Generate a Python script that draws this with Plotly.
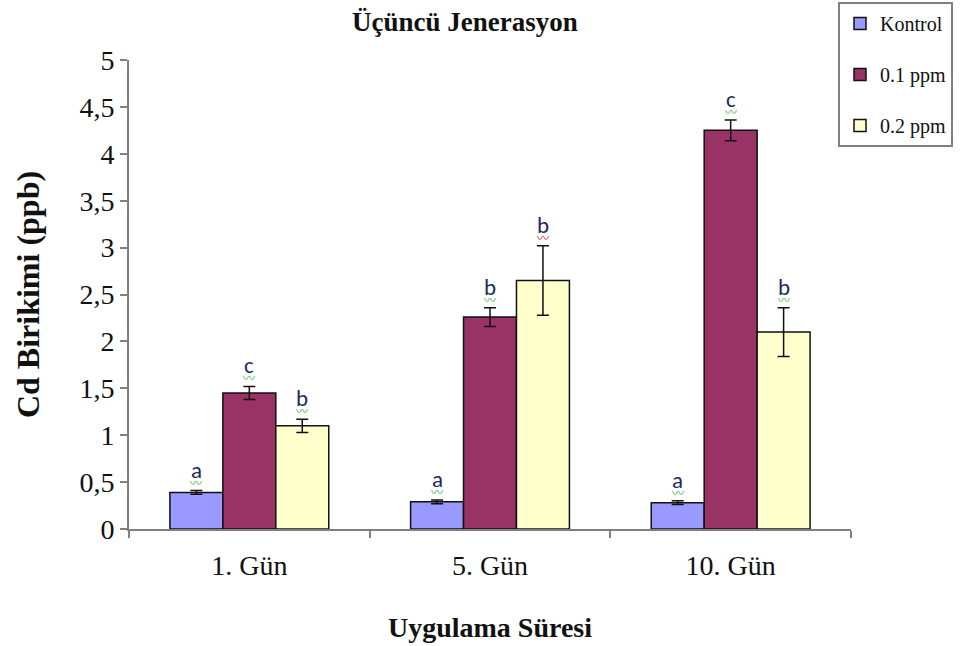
import plotly.graph_objects as go

categories = ["1. Gün", "5. Gün", "10. Gün"]
series_names = ["Kontrol", "0.1 ppm", "0.2 ppm"]
kontrol = [0.39, 0.29, 0.28]
ppm01 = [1.45, 2.26, 4.25]
ppm02 = [1.10, 2.65, 2.10]
kontrol_err = [0.02, 0.02, 0.02]
ppm01_err = [0.07, 0.10, 0.11]
ppm02_err = [0.07, 0.37, 0.26]
kontrol_letters = ["a", "a", "a"]
ppm01_letters = ["c", "b", "c"]
ppm02_letters = ["b", "b", "b"]
squiggle_colors = [["#3cb83c", "#3cb83c", "#3cb83c"],
                   ["#3cb83c", "#3cb83c", "#3cb83c"],
                   ["#3cb83c", "#e03030", "#3cb83c"]]
y_tickvals = [0, 0.5, 1, 1.5, 2, 2.5, 3, 3.5, 4, 4.5, 5]
y_ticktext = ["0", "0,5", "1", "1,5", "2", "2,5", "3", "3,5", "4", "4,5", "5"]

colors = ["#9999FF", "#993366", "#FFFFCC"]
values = [kontrol, ppm01, ppm02]
errors = [kontrol_err, ppm01_err, ppm02_err]
letters = [kontrol_letters, ppm01_letters, ppm02_letters]

SERIF = "Liberation Serif, Times New Roman, serif"
bargap = 0.34

fig = go.Figure()
for i, name in enumerate(series_names):
    fig.add_trace(go.Bar(
        x=categories, y=values[i], name=name,
        marker=dict(color=colors[i], line=dict(color="#111111", width=1.5)),
        error_y=dict(type="data", array=errors[i], visible=True,
                     color="#111111", thickness=1.5, width=6),
        legendgroup=name,
    ))

bw = (1 - bargap) / len(series_names)
for i in range(len(series_names)):
    off = (i - (len(series_names) - 1) / 2) * bw
    for j, cat in enumerate(categories):
        top = values[i][j] + errors[i][j]
        fig.add_annotation(x=j + off, y=top, text=letters[i][j], showarrow=False,
                           yanchor="bottom", yshift=5,
                           font=dict(family="Carlito, Calibri, Liberation Sans, sans-serif",
                                     size=23, color="#1f2a5a"))
        fig.add_annotation(x=j + off, y=top, text="〰", showarrow=False,
                           yanchor="bottom", yshift=-2,
                           font=dict(family="Noto Sans CJK SC, sans-serif",
                                     size=12, color=squiggle_colors[i][j]))

fig.update_layout(
    width=960, height=646,
    margin=dict(l=129, r=109, t=60, b=117, autoexpand=False),
    paper_bgcolor="white", plot_bgcolor="white",
    barmode="group", bargap=bargap, bargroupgap=0,
    title=dict(text="<b>Üçüncü Jenerasyon</b>", x=465 / 960, xanchor="center",
               y=1 - 22 / 646, yanchor="middle",
               font=dict(family=SERIF, size=27, color="#111111")),
    font=dict(family=SERIF, color="#111111"),
    legend=dict(x=(838 - 129) / 722, y=(529 - 2) / 469, xanchor="left", yanchor="top",
                bgcolor="white", bordercolor="#808080", borderwidth=2,
                font=dict(family=SERIF, size=20, color="#111111"),
                traceorder="grouped", tracegroupgap=22,
                itemwidth=30),
    showlegend=True,
)
fig.update_xaxes(
    type="category", showline=True, linecolor="#808080", linewidth=2,
    ticks="outside", tickson="boundaries", ticklen=7, tickcolor="#808080", tickwidth=2,
    ticklabelstandoff=10,
    tickfont=dict(family=SERIF, size=28, color="#111111"),
    title=dict(text="<b>Uygulama Süresi</b>", standoff=38,
               font=dict(family=SERIF, size=28, color="#111111")),
    showgrid=False, range=[-0.5, 2.5],
)
fig.update_yaxes(
    range=[0, 5], tickvals=y_tickvals, ticktext=y_ticktext,
    showline=True, linecolor="#808080", linewidth=2,
    ticks="outside", ticklen=7, tickcolor="#808080", tickwidth=2,
    tickfont=dict(family=SERIF, size=28, color="#111111"),
    title=dict(text="<b>Cd Birikimi (ppb)</b>", standoff=30,
               font=dict(family=SERIF, size=32, color="#111111")),
    showgrid=False, zeroline=False,
)

fig.write_html("out.html", config={"displayModeBar": False},
               post_script="document.body.style.margin='0';document.body.style.overflow='hidden';")
